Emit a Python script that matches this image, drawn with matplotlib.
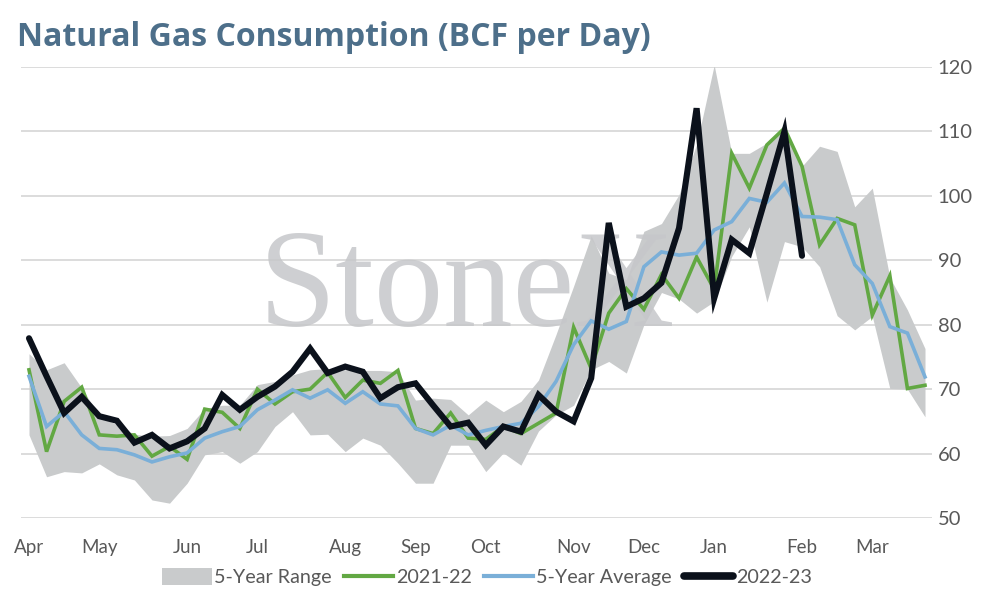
import matplotlib
matplotlib.use("Agg")
import matplotlib.pyplot as plt
from matplotlib.patches import Patch
from matplotlib.lines import Line2D
import numpy as np

plt.rcParams['font.family'] = ['Lato', 'DejaVu Sans']

months = ["Apr", "May", "Jun", "Jul", "Aug", "Sep", "Oct", "Nov", "Dec", "Jan", "Feb", "Mar"]
month_idx = [0, 4, 9, 13, 18, 22, 26, 31, 35, 39, 44, 48]

range_hi = [75.5, 73.0, 74.1, 70.2, 65.8, 64.5, 63.0, 62.7, 62.8, 63.9, 67.0, 67.5, 67.5,
            70.7, 71.2, 72.2, 73.0, 73.2, 73.0, 72.9, 72.9, 72.7, 68.3, 68.6, 68.4, 66.0,
            68.3, 66.5, 68.1, 71.4, 78.5, 86.0, 93.8, 88.0, 87.0, 94.5, 95.7, 100.2, 108.0,
            120.3, 106.6, 106.6, 108.2, 110.5, 104.6, 107.7, 106.9, 98.3, 101.2, 87.3, 82.3, 76.3]
range_lo = [62.9, 56.4, 57.2, 57.0, 58.4, 56.7, 55.9, 52.8, 52.3, 55.4, 59.8, 60.3, 58.5,
            60.3, 64.2, 66.5, 62.9, 63.0, 60.3, 62.4, 61.3, 58.5, 55.4, 55.4, 61.3, 61.3,
            57.2, 60.1, 58.2, 63.5, 66.0, 67.5, 73.0, 74.3, 72.5, 80.0, 85.0, 84.0, 81.8,
            83.6, 90.6, 95.2, 83.5, 92.9, 92.1, 89.0, 81.4, 79.2, 81.3, 70.1, 70.0, 65.7]
y2021 = [73.0, 60.3, 68.1, 70.3, 62.9, 62.7, 62.9, 59.6, 61.1, 59.1, 66.9, 66.4, 63.9,
         70.0, 67.7, 69.6, 70.0, 72.6, 68.7, 71.4, 70.9, 72.9, 63.9, 63.1, 66.3, 62.4,
         62.2, 64.2, 63.1, 64.7, 66.3, 79.6, 73.2, 81.8, 85.6, 82.4, 87.8, 84.1, 90.5,
         85.5, 106.6, 101.2, 107.9, 110.5, 104.6, 92.4, 96.5, 95.5, 81.5, 87.6, 70.1, 70.6]
avg5 = [72.0, 64.2, 66.5, 62.9, 60.8, 60.6, 59.8, 58.7, 59.5, 60.1, 62.4, 63.4, 64.2,
        66.8, 68.3, 69.9, 68.6, 69.9, 67.8, 69.6, 67.7, 67.4, 63.9, 62.9, 64.4, 62.9,
        63.6, 64.2, 64.7, 67.3, 71.2, 76.9, 80.6, 79.3, 80.5, 89.0, 91.3, 90.8, 91.1,
        94.7, 96.0, 99.6, 99.0, 102.0, 96.8, 96.7, 96.3, 89.3, 86.4, 79.7, 78.7, 71.9]
y2022 = [77.9, 72.0, 66.3, 68.8, 65.8, 65.1, 61.7, 62.9, 60.8, 61.9, 63.9, 69.1, 66.8,
         68.8, 70.4, 72.7, 76.3, 72.5, 73.5, 72.7, 68.6, 70.3, 70.9, 67.5, 64.2, 64.8,
         61.3, 64.2, 63.4, 69.1, 66.5, 65.0, 71.7, 95.8, 82.8, 84.1, 86.5, 95.0, 113.6,
         84.1, 93.2, 91.1, 100.4, 110.0, 90.7]

yticks = [50, 60, 70, 80, 90, 100, 110, 120]

c_band = '#c9cbcc'
c_green = '#62a843'
c_blue = '#7aafd8'
c_black = '#0b111b'
c_text = '#595959'
c_title = '#4d6f8a'

fig = plt.figure(figsize=(9.94, 6.0), dpi=100)
ax = fig.add_axes([21/994, 82/600, (932-21)/994, (518-67)/600])

x = np.arange(len(range_hi))
ax.fill_between(x, range_lo, range_hi, color=c_band, lw=0, zorder=1)
ax.plot(x, y2021, color=c_green, lw=2.6, zorder=3, solid_joinstyle='miter')
ax.plot(x, avg5, color=c_blue, lw=2.6, zorder=4, solid_joinstyle='miter')
ax.plot(np.arange(len(y2022)), y2022, color=c_black, lw=4.4, zorder=5,
        solid_joinstyle='miter', solid_capstyle='round')

ax.text(0.49, 0.425, "StoneX", transform=ax.transAxes, ha='center', va='baseline',
        fontsize=100, family='Liberation Serif', color='#c6c7ca', alpha=0.85, zorder=2)

ax.set_xlim(-(29-21)/17.57, 51 + (932-925)/17.57)
ax.set_ylim(50, 120)
ax.set_yticks(yticks)
ax.yaxis.tick_right()
ax.tick_params(axis='y', length=0, pad=4, labelsize=14.5, labelcolor=c_text)
ax.set_xticks(month_idx)
ax.set_xticklabels(months)
ax.tick_params(axis='x', length=0, pad=15, labelsize=13.5, labelcolor=c_text)
ax.grid(axis='y', color='#d9d9d9', lw=1.3, zorder=0)
ax.set_axisbelow(True)
for s in ax.spines.values():
    s.set_visible(False)

fig.text(17/994, 1 - 38/600, "Natural Gas Consumption (BCF per Day)", fontsize=23,
         fontweight='bold', family=['Open Sans', 'DejaVu Sans'], color=c_title,
         va='center', ha='left')

handles = [Patch(facecolor=c_band, edgecolor='none'),
           Line2D([], [], color=c_green, lw=3),
           Line2D([], [], color=c_blue, lw=3),
           Line2D([], [], color=c_black, lw=5.5, solid_capstyle='round')]
labels = ["5-Year Range", "2021-22", "5-Year Average", "2022-23"]
fig.legend(handles, labels, loc='center', bbox_to_anchor=(487/994, 1 - 577/600), ncol=4,
           frameon=False, fontsize=14.2, labelcolor=c_text, handlelength=2.5,
           handletextpad=0.15, columnspacing=0.6, handleheight=1.0)

fig.savefig("out.png", dpi=100)
